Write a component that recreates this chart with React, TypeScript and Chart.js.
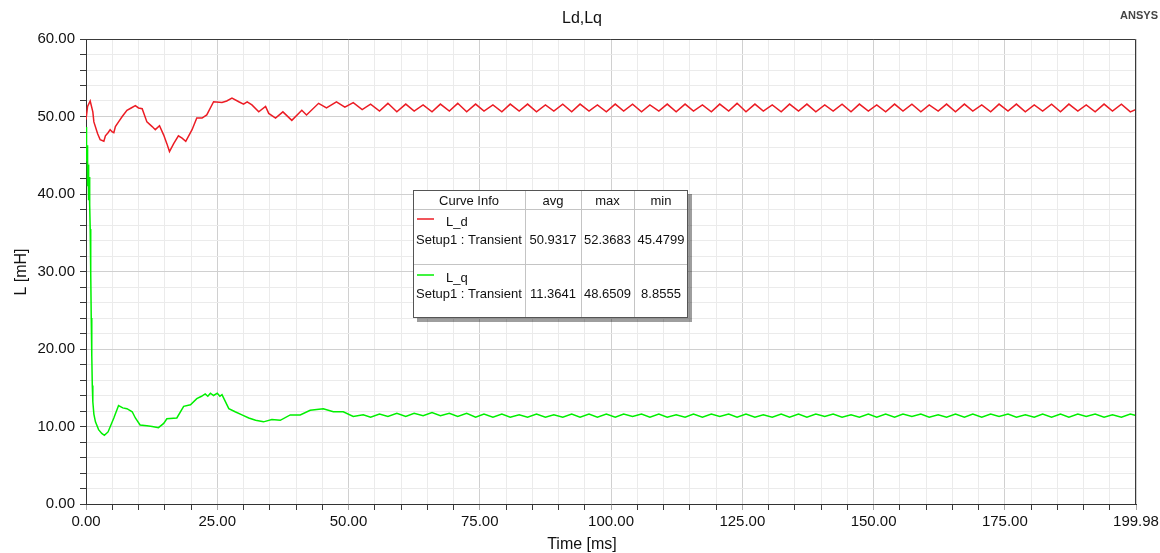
import { useEffect, useRef } from "react";
import { Chart, registerables } from "chart.js";

Chart.register(...registerables);

// L_d curve: time [ms] and inductance [mH]
const ldTimeMs = [
  0, 0.3, 0.8, 1.3, 1.5, 2.2, 2.7, 3.4, 3.7, 4.2, 4.6, 5.0, 5.3, 5.6, 6.2, 6.9, 7.8, 8.6, 9.4, 10.0,
  10.7, 11.6, 12.6, 13.2, 14.0, 14.8, 15.4, 15.9, 16.7, 17.6, 18.3, 19.0, 20.2, 21.1, 22.1, 23.0,
  24.3, 25.9, 26.8, 27.8, 29.1, 30.0, 30.7, 31.6, 32.9, 34.2, 34.8, 36.1, 37.5, 39.2, 41.1, 42.0,
  44.3, 45.8, 47.7, 49.3, 50.9, 52.6,
  54.2, 55.9, 57.5, 59.2, 60.9, 62.5, 64.2, 65.9, 67.5, 69.2, 70.8, 72.5, 74.2, 75.8, 77.5, 79.2,
  80.8, 82.5, 84.1, 85.8, 87.5, 89.1, 90.8, 92.5, 94.1, 95.8, 97.4, 99.1, 100.8, 102.4, 104.1, 105.8,
  107.4, 109.1, 110.7, 112.4, 114.1, 115.7, 117.4, 119.1, 120.7, 122.4, 124.0, 125.7, 127.4, 129.0,
  130.7, 132.4, 134.0, 135.7, 137.3, 139.0, 140.7, 142.3, 144.0, 145.7, 147.3, 149.0, 150.6, 152.3,
  154.0, 155.6, 157.3, 159.0, 160.6, 162.3, 163.9, 165.6, 167.3, 168.9, 170.6, 172.3, 173.9, 175.6,
  177.2, 178.9, 180.6, 182.2, 183.9, 185.6, 187.2, 188.9, 190.5, 192.2, 193.9, 195.5, 197.2, 198.9,
  199.98,
];
const ldMilliHenry = [
  49.6, 51.3, 52.0, 50.6, 49.3, 47.8, 47.0, 46.8, 47.5, 47.9, 48.3, 48.0, 47.9, 48.7, 49.3, 50.0, 50.8, 51.1, 51.4, 51.1,
  51.0, 49.3, 48.7, 48.3, 48.8, 47.6, 46.5, 45.4799, 46.5, 47.5, 47.2, 46.8, 48.3, 49.8, 49.8, 50.2,
  51.9, 51.8, 52.0, 52.3683, 51.9, 51.6, 51.9, 51.5, 50.6, 51.3, 50.4, 49.8, 50.6, 49.5, 50.8, 50.2,
  51.7, 51.1, 51.9, 51.2, 51.8, 50.9,
  51.6, 50.7, 51.7, 50.6, 51.6, 50.7, 51.5, 50.6, 51.6, 50.7, 51.7, 50.6, 51.6, 50.7, 51.5, 50.6,
  51.6, 50.7, 51.6, 50.6, 51.5, 50.7, 51.6, 50.6, 51.6, 50.7, 51.5, 50.6, 51.6, 50.7, 51.6, 50.6,
  51.5, 50.7, 51.6, 50.6, 51.6, 50.7, 51.5, 50.6, 51.6, 50.7, 51.7, 50.6, 51.6, 50.7,
  51.5, 50.6, 51.6, 50.7, 51.6, 50.6, 51.5, 50.7, 51.6, 50.6, 51.6, 50.7, 51.5, 50.6,
  51.6, 50.7, 51.6, 50.6, 51.5, 50.7, 51.6, 50.6, 51.6, 50.7, 51.5, 50.6, 51.6, 50.7,
  51.6, 50.6, 51.5, 50.7, 51.6, 50.6, 51.6, 50.7, 51.5, 50.6, 51.6, 50.7, 51.6, 50.6,
  50.9,
];

// L_q curve: time [ms] and inductance [mH]
const lqTimeMs = [
  0, 0.1, 0.2, 0.3, 0.4, 0.5, 0.6, 0.7, 0.8, 0.9, 1.0, 1.1, 1.2, 1.3, 1.5, 1.8, 2.4, 3.0, 3.5, 4.2,
  5.3, 6.2, 7.0, 7.8, 8.8, 9.4, 10.3, 11.6, 12.6, 13.8, 14.8, 15.4, 17.3, 18.6, 19.9, 21.1, 22.0,
  22.7, 23.2, 23.7, 24.3, 25.0, 25.5, 25.9, 27.2, 28.4, 29.7, 31.0, 32.3, 33.8, 35.4, 37.0, 38.9,
  40.8, 42.7, 45.2, 47.1, 49.0, 50.9, 52.8,
  54.2, 55.9, 57.5, 59.2, 60.9, 62.5, 64.2, 65.9, 67.5, 69.2, 70.8, 72.5, 74.2, 75.8, 77.5, 79.2,
  80.8, 82.5, 84.1, 85.8, 87.5, 89.1, 90.8, 92.5, 94.1, 95.8, 97.4, 99.1, 100.8, 102.4, 104.1, 105.8,
  107.4, 109.1, 110.7, 112.4, 114.1, 115.7, 117.4, 119.1, 120.7, 122.4, 124.0, 125.7, 127.4, 129.0,
  130.7, 132.4, 134.0, 135.7, 137.3, 139.0, 140.7, 142.3, 144.0, 145.7, 147.3, 149.0, 150.6, 152.3,
  154.0, 155.6, 157.3, 159.0, 160.6, 162.3, 163.9, 165.6, 167.3, 168.9, 170.6, 172.3, 173.9, 175.6,
  177.2, 178.9, 180.6, 182.2, 183.9, 185.6, 187.2, 188.9, 190.5, 192.2, 193.9, 195.5, 197.2, 198.9,
  199.98,
];
const lqMilliHenry = [
  48.6509, 44.2, 46.3, 41.0, 43.8, 39.2, 42.2, 38.6, 35.5, 29.8, 24.0, 19.2, 15.3, 13.2, 11.6, 10.6, 9.6, 9.1, 8.8555, 9.3,
  11.1, 12.7, 12.4, 12.3, 11.9, 11.1, 10.2, 10.1, 10.0, 9.85, 10.4, 11.0, 11.1, 12.6, 12.8, 13.6, 13.9,
  14.2, 13.9, 14.3, 14.0, 14.3, 13.9, 14.1, 12.3, 11.9, 11.5, 11.1, 10.8, 10.6, 10.9, 10.8, 11.5,
  11.5, 12.1, 12.3, 11.9, 11.9, 11.3, 11.5,
  11.2, 11.6, 11.3, 11.7, 11.3, 11.7, 11.4, 11.8, 11.4, 11.7, 11.3, 11.7, 11.2, 11.6, 11.2, 11.6,
  11.2, 11.5, 11.2, 11.6, 11.2, 11.5, 11.2, 11.6, 11.2, 11.6, 11.2, 11.6, 11.2, 11.6, 11.3, 11.6,
  11.2, 11.6, 11.2, 11.5, 11.2, 11.6, 11.2, 11.6, 11.3, 11.6, 11.2, 11.6, 11.2, 11.5,
  11.2, 11.6, 11.2, 11.6, 11.2, 11.6, 11.3, 11.6, 11.2, 11.5, 11.2, 11.6, 11.2, 11.6,
  11.2, 11.6, 11.3, 11.6, 11.2, 11.5, 11.2, 11.6, 11.2, 11.6, 11.2, 11.6, 11.3, 11.6,
  11.2, 11.5, 11.2, 11.6, 11.2, 11.6, 11.2, 11.6, 11.3, 11.6, 11.2, 11.5, 11.2, 11.6,
  11.4,
];

// Axis ticks
const xMax = 199.98;
const xLabelTicks = [0, 25, 50, 75, 100, 125, 150, 175, 199.98];
const xMinorStep = 5;
const yMin = 0;
const yMax = 60;
const yLabelTicks = [0, 10, 20, 30, 40, 50, 60];
const yMinorStep = 2;

// Curve info table
const tableHeaders = ["Curve Info", "avg", "max", "min"];
const curveNames = ["L_d", "L_q"];
const curveSource = "Setup1 : Transient";
const ldStats = ["50.9317", "52.3683", "45.4799"];
const lqStats = ["11.3641", "48.6509", "8.8555"];

const RED = "#ec1c24";
const GREEN = "#00f000";
const FONT = '"Liberation Sans", Arial, sans-serif';

const isIn = (list: number[], v: number) => list.some((t) => Math.abs(t - v) < 1e-6);

const overlay = {
  id: "ansysOverlay",
  afterDraw(chart: any) {
    const ctx = chart.ctx as CanvasRenderingContext2D;
    const a = chart.chartArea;
    ctx.save();

    // plot frame (top / right)
    ctx.strokeStyle = "#3a3a3a";
    ctx.lineWidth = 1;
    ctx.beginPath();
    ctx.moveTo(a.left, a.top + 0.5);
    ctx.lineTo(a.right - 0.5, a.top + 0.5);
    ctx.lineTo(a.right - 0.5, a.bottom);
    ctx.stroke();

    // titles
    ctx.fillStyle = "#111";
    ctx.textAlign = "center";
    ctx.textBaseline = "middle";
    ctx.font = `16px ${FONT}`;
    ctx.fillText("Ld,Lq", 582, 19);
    ctx.fillText("Time [ms]", 582, 545);
    ctx.save();
    ctx.translate(22, 272);
    ctx.rotate(-Math.PI / 2);
    ctx.fillText("L [mH]", 0, 0);
    ctx.restore();

    ctx.fillStyle = "#444";
    ctx.font = `bold 11px ${FONT}`;
    ctx.textAlign = "right";
    ctx.fillText("ANSYS", 1158, 16);

    // curve info table
    const L = 413, T = 190, R = 688, B = 318;
    const cols = [L, 525, 581, 634, R];
    ctx.fillStyle = "rgba(0,0,0,0.38)";
    ctx.fillRect(L + 4, T + 4, R - L, B - T);
    ctx.fillStyle = "#fff";
    ctx.fillRect(L, T, R - L, B - T);
    ctx.strokeStyle = "#c4c4c4";
    ctx.beginPath();
    for (let i = 1; i < cols.length - 1; i++) {
      ctx.moveTo(cols[i] + 0.5, T);
      ctx.lineTo(cols[i] + 0.5, B);
    }
    ctx.moveTo(L, 209.5);
    ctx.lineTo(R, 209.5);
    ctx.moveTo(L, 264.5);
    ctx.lineTo(R, 264.5);
    ctx.stroke();
    ctx.strokeStyle = "#555";
    ctx.strokeRect(L + 0.5, T + 0.5, R - L - 1, B - T - 1);

    ctx.fillStyle = "#111";
    ctx.font = `13px ${FONT}`;
    ctx.textBaseline = "alphabetic";
    ctx.textAlign = "center";
    tableHeaders.forEach((h, i) => {
      ctx.fillText(h, (cols[i] + cols[i + 1]) / 2, 205);
    });

    const rows = [
      { name: curveNames[0], color: RED, stats: ldStats, lineY: 219, nameY: 226, dataY: 244 },
      { name: curveNames[1], color: GREEN, stats: lqStats, lineY: 275, nameY: 282, dataY: 298 },
    ];
    rows.forEach((r) => {
      ctx.strokeStyle = r.color;
      ctx.lineWidth = 1.5;
      ctx.beginPath();
      ctx.moveTo(417, r.lineY);
      ctx.lineTo(434, r.lineY);
      ctx.stroke();
      ctx.fillStyle = "#111";
      ctx.textAlign = "left";
      ctx.fillText(r.name, 446, r.nameY);
      ctx.fillText(curveSource, 416, r.dataY);
      ctx.textAlign = "center";
      r.stats.forEach((s, i) => {
        ctx.fillText(s, (cols[i + 1] + cols[i + 2]) / 2, r.dataY);
      });
    });

    ctx.restore();
  },
};

export default function App() {
  const ref = useRef<HTMLCanvasElement | null>(null);

  useEffect(() => {
    if (!ref.current) return;

    const ldPoints = ldTimeMs.map((t, i) => ({ x: t, y: ldMilliHenry[i] }));
    const lqPoints = lqTimeMs.map((t, i) => ({ x: t, y: lqMilliHenry[i] }));

    const xTicks: number[] = [];
    for (let v = 0; v < xMax - 1; v += xMinorStep) xTicks.push(v);
    xTicks.push(xMax);
    const yTicks: number[] = [];
    for (let v = yMin; v <= yMax; v += yMinorStep) yTicks.push(v);

    const chart = new Chart(ref.current, {
      type: "line",
      data: {
        datasets: [
          {
            label: curveNames[0],
            data: ldPoints,
            borderColor: RED,
            borderWidth: 1.5,
            pointRadius: 0,
            tension: 0,
            fill: false,
          },
          {
            label: curveNames[1],
            data: lqPoints,
            borderColor: GREEN,
            borderWidth: 1.5,
            pointRadius: 0,
            tension: 0,
            fill: false,
          },
        ],
      },
      options: {
        animation: false,
        responsive: false,
        devicePixelRatio: 1,
        layout: { padding: { left: 0, top: 39, right: 24, bottom: 0 } },
        plugins: {
          legend: { display: false },
          tooltip: { enabled: false },
          title: { display: false },
        },
        scales: {
          x: {
            type: "linear",
            min: 0,
            max: xMax,
            afterBuildTicks: (scale: any) => {
              scale.ticks = xTicks.map((v) => ({ value: v }));
            },
            afterFit: (scale: any) => {
              scale.height = 49;
              scale.paddingLeft = 0;
              scale.paddingRight = 0;
            },
            ticks: {
              autoSkip: false,
              maxRotation: 0,
              padding: 3,
              color: "#111",
              font: { family: FONT, size: 15 },
              callback: (v: any) => (isIn(xLabelTicks, Number(v)) ? Number(v).toFixed(2) : ""),
            },
            grid: {
              drawOnChartArea: true,
              tickLength: 6,
              color: (c: any) => (isIn(xLabelTicks, c.tick?.value) ? "#d0d0d0" : "#ebebeb"),
              tickColor: (c: any) => (isIn(xLabelTicks, c.tick?.value) ? "#a8a8a8" : "#3a3a3a"),
            },
            border: { display: true, color: "#333", width: 1 },
          },
          y: {
            type: "linear",
            min: yMin,
            max: yMax,
            afterBuildTicks: (scale: any) => {
              scale.ticks = yTicks.map((v) => ({ value: v }));
            },
            afterFit: (scale: any) => {
              scale.width = 86;
              scale.paddingTop = 0;
              scale.paddingBottom = 0;
            },
            ticks: {
              autoSkip: false,
              padding: 5,
              color: "#111",
              font: { family: FONT, size: 15 },
              callback: (v: any) => (isIn(yLabelTicks, Number(v)) ? Number(v).toFixed(2) : ""),
            },
            grid: {
              drawOnChartArea: true,
              tickLength: 6,
              color: (c: any) => (isIn(yLabelTicks, c.tick?.value) ? "#d0d0d0" : "#ebebeb"),
              tickColor: "#3a3a3a",
            },
            border: { display: true, color: "#333", width: 1 },
          },
        },
      },
      plugins: [overlay],
    });

    return () => chart.destroy();
  }, []);

  return (
    <div style={{ position: "fixed", left: 0, top: 0, width: 1160, height: 553, background: "#fff" }}>
      <canvas ref={ref} width={1160} height={553} style={{ display: "block", width: 1160, height: 553 }} />
    </div>
  );
}
